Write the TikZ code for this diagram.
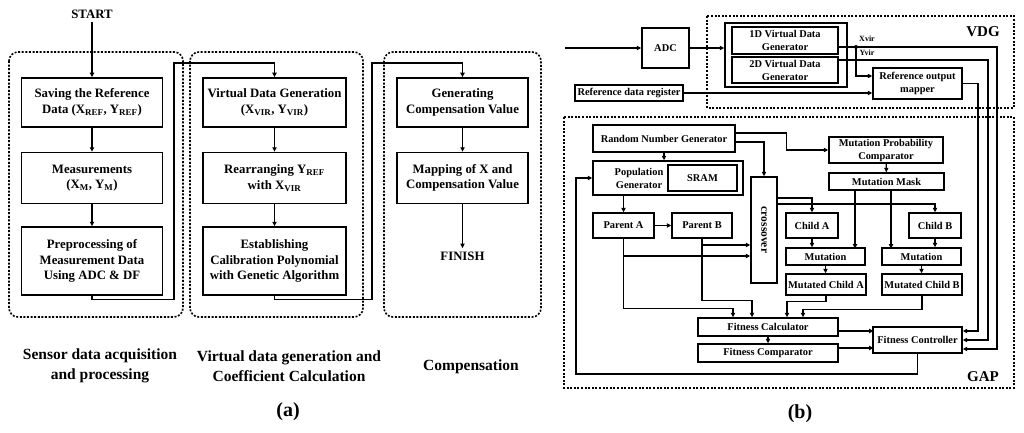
\documentclass[tikz,border=0pt]{standalone}
\usepackage{fontspec}
\setmainfont{Liberation Serif}
\usepackage{tikz}
\usetikzlibrary{calc,arrows.meta}
\tikzset{
  blk/.style={draw, line width=1.5pt, align=center, inner sep=0pt, font=\bfseries\fontsize{12.8}{15.5}\selectfont},
  gblk/.style={draw, line width=1.4pt, align=center, inner sep=0pt, font=\bfseries\fontsize{10.4}{13}\selectfont},
  gtxt/.style={align=center, inner sep=0pt, font=\bfseries\fontsize{10.4}{13}\selectfont},
  term/.style={font=\bfseries\fontsize{12.8}{15.5}\selectfont},
  grplab/.style={align=center, font=\bfseries\fontsize{15.5}{20}\selectfont},
  biglab/.style={font=\bfseries\fontsize{15}{18}\selectfont},
  sublab/.style={font=\bfseries\fontsize{20}{24}\selectfont},
  wire/.style={font=\bfseries\fontsize{8}{9}\selectfont, inner sep=0pt},
  grp/.style={draw, line width=1.6pt, dash pattern=on 2pt off 1.6pt, rounded corners=9pt},
  grpsq/.style={draw, line width=1.6pt, dash pattern=on 2pt off 1.6pt},
  arr/.style={line width=1.3pt, -{Triangle[length=4.5pt,width=4.2pt]}},
  sz/.style 2 args={minimum width=#1pt, minimum height=#2pt},
}

\begin{document}
\begin{tikzpicture}[x=1pt,y=-1pt]
  \useasboundingbox (0,0) rectangle (1024,433);
  % (a) groups
  \draw[grp] (9,52) rectangle (183,317);
  \draw[grp] (190,52) rectangle (363,317);
  \draw[grp] (384,52) rectangle (541,317);
  % (a) steps
  \node[term] (start) at (92,14) {START};
  \node[blk,sz={141}{49}] (save) at (92,102.5) {Saving the Reference\\Data (X\textsubscript{REF}, Y\textsubscript{REF})};
  \node[blk,sz={141}{51}] (meas) at (92,178) {Measurements\\(X\textsubscript{M}, Y\textsubscript{M})};
  \node[blk,sz={141}{68}] (prep) at (92,261) {Preprocessing of\\Measurement Data\\Using ADC \& DF};
  \node[blk,sz={143}{49}] (vgen) at (274.5,102.5) {Virtual Data Generation\\(X\textsubscript{VIR}, Y\textsubscript{VIR})};
  \node[blk,sz={143}{51}] (rearr) at (274.5,178) {Rearranging Y\textsubscript{REF}\\with X\textsubscript{VIR}};
  \node[blk,sz={143}{68}] (poly) at (274.5,261) {Establishing\\Calibration Polynomial\\with Genetic Algorithm};
  \node[blk,sz={131}{49}] (gcomp) at (462.5,102.5) {Generating\\Compensation Value};
  \node[blk,sz={131}{51}] (mapx) at (462.5,178) {Mapping of X and\\Compensation Value};
  \node[term] (finish) at (462.5,256) {FINISH};
  \coordinate (busA) at (174,63);
  \coordinate (busB) at (372,63);
  \draw[arr] (start) -- (save);
  \draw[arr] (save) -- (meas);
  \draw[arr] (meas) -- (prep);
  \draw[arr] (prep.south) -- ++(0,4) -| (busA) -| (vgen.north);
  \draw[arr] (vgen) -- (rearr);
  \draw[arr] (rearr) -- (poly);
  \draw[arr] (poly.south) -- ++(0,4) -| (busB) -| (gcomp.north);
  \draw[arr] (gcomp) -- (mapx);
  \draw[arr] (mapx) -- (finish);
  \node[grplab] (capA) at (100,366) {Sensor data acquisition\\and processing};
  \node[grplab] (capB) at (289,366) {Virtual data generation and\\Coefficient Calculation};
  \node[grplab] (capC) at (471,367) {Compensation};
  \node[sublab] (taga) at (288,412) {(a)};

  % (b) groups
  \draw[grpsq] (707,16) rectangle (1014,108);
  \draw[grpsq] (564,117) rectangle (1014,388);
  \node[biglab] (vdglab) at (983,32) {VDG};
  \node[biglab] (gaplab) at (983,377) {GAP};
  % (b) VDG blocks
  \node[gblk,sz={47}{40}] (adc) at (665.5,48) {ADC};
  \node[gblk,sz={122}{64}] (vdg) at (786,55) {};
  \node[gblk,sz={106}{27}] (gen1) at (785,40.5) {1D Virtual Data\\Generator};
  \node[gblk,sz={106}{26}] (gen2) at (785,70) {2D Virtual Data\\Generator};
  \node[gblk,sz={108}{16}] (refreg) at (629,93) {Reference data register};
  \node[gblk,sz={89}{31}] (mapper) at (917.5,83.5) {Reference output\\mapper};
  \node[wire] (xlab) at (867,39) {Xvir};
  \node[wire] (ylab) at (867,53) {Yvir};
  % (b) GAP blocks
  \node[gblk,sz={142}{27}] (rng) at (664,138.5) {Random Number Generator};
  \node[gblk,sz={150}{34}] (popgen) at (668,178) {};
  \node[gtxt] (poptxt) at (639,178) {Population\\Generator};
  \node[gblk,sz={69}{26}] (sram) at (702.5,178) {SRAM};
  \node[gblk,sz={26}{106}] (xover) at (764,230) {};
  \node[gtxt,rotate=-90,font=\bfseries\fontsize{11.5}{13}\selectfont] (xovertxt) at (xover) {crossover};
  \node[gblk,sz={114}{26}] (mpc) at (886,150) {Mutation Probability\\Comparator};
  \node[gblk,sz={115}{17}] (mask) at (886.5,181.5) {Mutation Mask};
  \node[gblk,sz={61}{25}] (parA) at (623.5,225.5) {Parent A};
  \node[gblk,sz={60}{25}] (parB) at (702,225.5) {Parent B};
  \node[gblk,sz={52}{25}] (childA) at (812,225.5) {Child A};
  \node[gblk,sz={52}{25}] (childB) at (935,225.5) {Child B};
  \node[gblk,sz={79}{17}] (mutA) at (825.5,256.5) {Mutation};
  \node[gblk,sz={79}{17}] (mutB) at (921.5,256.5) {Mutation};
  \node[gblk,sz={80}{21}] (mchA) at (826,284.5) {Mutated Child A};
  \node[gblk,sz={80}{21}] (mchB) at (922,284.5) {Mutated Child B};
  \node[gblk,sz={140}{18}] (fcalc) at (768,327) {Fitness Calculator};
  \node[gblk,sz={140}{18}] (fcomp) at (768,353) {Fitness Comparator};
  \node[gblk,sz={89}{26}] (fctl) at (917.5,340) {Fitness Controller};
  % (b) wiring
  \coordinate (in) at (565,48);
  \coordinate (xcol) at (997,47);
  \coordinate (ycol) at (988,60);
  \coordinate (mcol) at (978,83.5);
  \coordinate (xj) at (856,47);
  \coordinate (fbk) at (576,374);
  \draw[arr] (in) -- (adc);
  \draw[arr] (adc.east) -- (adc.east -| vdg.west);
  \draw[arr] ([yshift=-6.5pt]gen1.east) -- (xcol) |- ([yshift=-9pt]fctl.east);
  \draw[arr] ([yshift=10pt]gen2.east) -- (ycol) |- (fctl.east);
  \draw[arr] (mapper.east) -- (mcol) |- ([yshift=9pt]fctl.east);
  \fill (xj) circle (2pt);
  \draw[arr] (xj) |- ([yshift=7.5pt]mapper.west);
  \draw[arr] (refreg.east) -- (refreg.east -| mapper.west);
  \draw[arr] (rng.south) -- (rng.south |- popgen.north);
  \draw[arr] ([yshift=-3.5pt]rng.east) -| (xover.north);
  \draw[arr] ([yshift=5.5pt]rng.east) -| ($(mpc.west)+(-42,0)$) -- (mpc.west);
  \draw[arr] (mpc) -- (mask);
  \draw[arr] (popgen.south -| parA.north) -- (parA.north);
  \draw[arr] (parA) -- (parB);
  \draw[arr] (parA.south) |- ([yshift=-26pt]xover.west);
  \draw[arr] (parB.south) |- ([yshift=-15pt]xover.west);
  \draw[arr] ([yshift=32pt]xover.east) -| (childA.north);
  \draw[arr] ([yshift=26pt]xover.east) -| (childB.north);
  \draw[arr] ([xshift=-31.5pt]mask.south) -- ++(0,58);
  \draw[arr] ([xshift=4.5pt]mask.south) -- ++(0,58);
  \draw[arr] (childA.south) -- (childA.south |- mutA.north);
  \draw[arr] (childB.south) -- (childB.south |- mutB.north);
  \draw[arr] (mutA.south) -- (mutA.south |- mchA.north);
  \draw[arr] (mutB.south) -- (mutB.south |- mchB.north);
  \draw[arr] (parA.south) -- ++(0,70) -| ([xshift=-35pt]fcalc.north);
  \draw[arr] (parB.south) -- ++(0,62) -| ([xshift=-16pt]fcalc.north);
  \draw[arr] (mchA.south) -- ++(0,6) -| ([xshift=19pt]fcalc.north);
  \draw[arr] (mchB.south) -- ++(0,14) -| ([xshift=35pt]fcalc.north);
  \draw[arr] (fcalc) -- (fcomp);
  \draw[arr] ([yshift=-4pt]fcalc.east) -- ++(35,0);
  \draw[arr] ([yshift=5pt]fcomp.east) -- ++(35,0);
  \draw[arr] (fctl.south) |- (fbk) |- (popgen.west);
  \node[sublab] (tagb) at (800,414) {(b)};
\end{tikzpicture}
\end{document}
